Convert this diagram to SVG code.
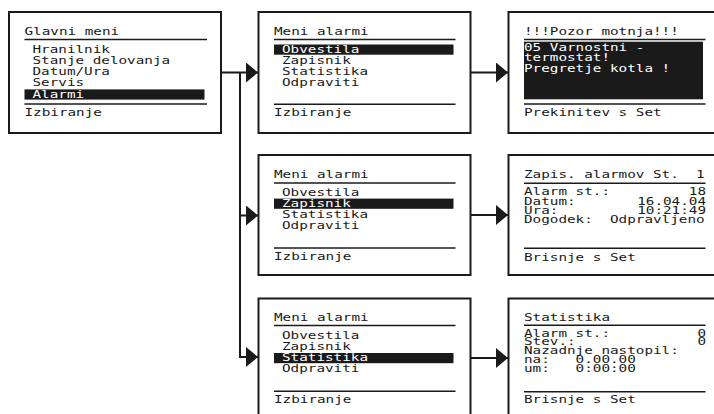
<svg xmlns="http://www.w3.org/2000/svg" width="714" height="414" viewBox="0 0 714 414">
<style>
.t{font-family:"DejaVu Sans Mono","Liberation Mono",monospace;font-size:11px;fill:#1a1a1a}
.w{fill:#fff}
.pre{white-space:pre}
.box{fill:#fff;stroke:#1a1a1a;stroke-width:2}
.rule{stroke:#1a1a1a;stroke-width:1.5}
.bar{fill:#1a1a1a}
.conn{fill:none;stroke:#1a1a1a;stroke-width:2;marker-end:url(#ah)}
</style>
<defs>
<marker id="ah" markerUnits="userSpaceOnUse" markerWidth="12" markerHeight="20" viewBox="0 0 12 20" refX="12" refY="10" orient="auto">
<path d="M0 0 L12 10 L0 20 Z" fill="#1a1a1a"/>
</marker>
</defs>
<rect width="714" height="414" fill="#fff"/>

<g id="glavni-meni">
<rect class="box" x="9" y="12" width="212" height="121"/>
<text class="t" x="24.5" y="35" textLength="94.6" lengthAdjust="spacingAndGlyphs">Glavni meni</text>
<line class="rule" x1="24.5" y1="39.5" x2="207" y2="39.5"/>
<text class="t" x="32.5" y="52.5" textLength="77.4" lengthAdjust="spacingAndGlyphs">Hranilnik</text>
<text class="t" x="32.5" y="63.8" textLength="137.6" lengthAdjust="spacingAndGlyphs">Stanje delovanja</text>
<text class="t" x="32.5" y="75.1" textLength="77.4" lengthAdjust="spacingAndGlyphs">Datum/Ura</text>
<text class="t" x="32.5" y="86.4" textLength="51.6" lengthAdjust="spacingAndGlyphs">Servis</text>
<rect class="bar" x="24.5" y="89.4" width="180" height="10.2"/>
<text class="t w" x="32.5" y="97.7" textLength="51.6" lengthAdjust="spacingAndGlyphs">Alarmi</text>
<line class="rule" x1="24.5" y1="104" x2="207" y2="104"/>
<text class="t" x="24.5" y="115.5" textLength="77.4" lengthAdjust="spacingAndGlyphs">Izbiranje</text>
</g>

<g id="meni-alarmi-1">
<rect class="box" x="258.5" y="12" width="212" height="121"/>
<text class="t" x="274" y="35.3" textLength="94.6" lengthAdjust="spacingAndGlyphs">Meni alarmi</text>
<line class="rule" x1="274" y1="39.5" x2="455.5" y2="39.5"/>
<rect class="bar" x="274" y="44.5" width="179.5" height="10.2"/>
<text class="t w" x="282" y="52.8" textLength="77.4" lengthAdjust="spacingAndGlyphs">Obvestila</text>
<text class="t" x="282" y="63.6" textLength="68.8" lengthAdjust="spacingAndGlyphs">Zapisnik</text>
<text class="t" x="282" y="74.6" textLength="86" lengthAdjust="spacingAndGlyphs">Statistika</text>
<text class="t" x="282" y="85.6" textLength="77.4" lengthAdjust="spacingAndGlyphs">Odpraviti</text>
<line class="rule" x1="274" y1="104.3" x2="455.5" y2="104.3"/>
<text class="t" x="274" y="115.8" textLength="77.4" lengthAdjust="spacingAndGlyphs">Izbiranje</text>
</g>

<g id="pozor-motnja">
<rect class="box" x="508.5" y="12" width="220" height="121"/>
<text class="t" x="524" y="35" textLength="154.8" lengthAdjust="spacingAndGlyphs">!!!Pozor motnja!!!</text>
<line class="rule" x1="524" y1="39.5" x2="705.5" y2="39.5"/>
<rect class="bar" x="524" y="41.7" width="179" height="57.6"/>
<text class="t w" x="524" y="50.5" textLength="120.4" lengthAdjust="spacingAndGlyphs">05 Varnostni -</text>
<text class="t w" x="524" y="61.2" textLength="86" lengthAdjust="spacingAndGlyphs">termostat!</text>
<text class="t w" x="524" y="72" textLength="146.2" lengthAdjust="spacingAndGlyphs">Pregretje kotla !</text>
<line class="rule" x1="524" y1="104" x2="705.5" y2="104"/>
<text class="t" x="524" y="115.5" textLength="137.6" lengthAdjust="spacingAndGlyphs">Prekinitev s Set</text>
</g>

<g id="meni-alarmi-2">
<rect class="box" x="258.5" y="155" width="212" height="120"/>
<text class="t" x="274" y="178.3" textLength="94.6" lengthAdjust="spacingAndGlyphs">Meni alarmi</text>
<line class="rule" x1="274" y1="183" x2="455.5" y2="183"/>
<text class="t" x="282" y="195.8" textLength="77.4" lengthAdjust="spacingAndGlyphs">Obvestila</text>
<rect class="bar" x="274" y="198.6" width="179.5" height="10.2"/>
<text class="t w" x="282" y="206.6" textLength="68.8" lengthAdjust="spacingAndGlyphs">Zapisnik</text>
<text class="t" x="282" y="217.6" textLength="86" lengthAdjust="spacingAndGlyphs">Statistika</text>
<text class="t" x="282" y="228.6" textLength="77.4" lengthAdjust="spacingAndGlyphs">Odpraviti</text>
<line class="rule" x1="274" y1="248" x2="455.5" y2="248"/>
<text class="t" x="274" y="260" textLength="77.4" lengthAdjust="spacingAndGlyphs">Izbiranje</text>
</g>

<g id="zapis-alarmov">
<rect class="box" x="508.5" y="155" width="220" height="120"/>
<text class="t pre" xml:space="preserve" x="524" y="178.3" textLength="180.6" lengthAdjust="spacingAndGlyphs">Zapis. alarmov St.  1</text>
<line class="rule" x1="524" y1="183.3" x2="705.5" y2="183.3"/>
<text class="t" x="524" y="195" textLength="86" lengthAdjust="spacingAndGlyphs">Alarm st.:</text>
<text class="t" x="706" y="195" text-anchor="end" textLength="17.2" lengthAdjust="spacingAndGlyphs">18</text>
<text class="t" x="524" y="204.5" textLength="51.6" lengthAdjust="spacingAndGlyphs">Datum:</text>
<text class="t" x="706" y="204.5" text-anchor="end" textLength="68.8" lengthAdjust="spacingAndGlyphs">16.04.04</text>
<text class="t" x="524" y="214" textLength="34.4" lengthAdjust="spacingAndGlyphs">Ura:</text>
<text class="t" x="706" y="214" text-anchor="end" textLength="68.8" lengthAdjust="spacingAndGlyphs">10:21:49</text>
<text class="t pre" xml:space="preserve" x="524" y="223.3" textLength="180.6" lengthAdjust="spacingAndGlyphs">Dogodek:  Odpravljeno</text>
<line class="rule" x1="524" y1="248.3" x2="705.5" y2="248.3"/>
<text class="t" x="524" y="260.5" textLength="111.8" lengthAdjust="spacingAndGlyphs">Brisnje s Set</text>
</g>

<g id="meni-alarmi-3">
<rect class="box" x="258.5" y="298.5" width="212" height="121"/>
<text class="t" x="274" y="320.5" textLength="94.6" lengthAdjust="spacingAndGlyphs">Meni alarmi</text>
<line class="rule" x1="274" y1="325.5" x2="455.5" y2="325.5"/>
<text class="t" x="282" y="338.5" textLength="77.4" lengthAdjust="spacingAndGlyphs">Obvestila</text>
<text class="t" x="282" y="349.5" textLength="68.8" lengthAdjust="spacingAndGlyphs">Zapisnik</text>
<rect class="bar" x="274" y="353" width="179.5" height="10.2"/>
<text class="t w" x="282" y="361.3" textLength="86" lengthAdjust="spacingAndGlyphs">Statistika</text>
<text class="t" x="282" y="372.3" textLength="77.4" lengthAdjust="spacingAndGlyphs">Odpraviti</text>
<line class="rule" x1="274" y1="391.3" x2="455.5" y2="391.3"/>
<text class="t" x="274" y="402.5" textLength="77.4" lengthAdjust="spacingAndGlyphs">Izbiranje</text>
</g>

<g id="statistika">
<rect class="box" x="508.5" y="298.5" width="220" height="121"/>
<text class="t" x="524" y="320.7" textLength="86" lengthAdjust="spacingAndGlyphs">Statistika</text>
<line class="rule" x1="524" y1="325.3" x2="705.5" y2="325.3"/>
<text class="t" x="524" y="336.5" textLength="86" lengthAdjust="spacingAndGlyphs">Alarm st.:</text>
<text class="t" x="706" y="336.5" text-anchor="end" textLength="8.6" lengthAdjust="spacingAndGlyphs">0</text>
<text class="t" x="524" y="345.2" textLength="51.6" lengthAdjust="spacingAndGlyphs">Stev.:</text>
<text class="t" x="706" y="345.2" text-anchor="end" textLength="8.6" lengthAdjust="spacingAndGlyphs">0</text>
<text class="t" x="524" y="354" textLength="154.8" lengthAdjust="spacingAndGlyphs">Nazadnje nastopil:</text>
<text class="t pre" xml:space="preserve" x="524" y="363" textLength="111.8" lengthAdjust="spacingAndGlyphs">na:   0.00.00</text>
<text class="t pre" xml:space="preserve" x="524" y="371.8" textLength="111.8" lengthAdjust="spacingAndGlyphs">um:   0:00:00</text>
<line class="rule" x1="524" y1="391.7" x2="705.5" y2="391.7"/>
<text class="t" x="524" y="402.5" textLength="111.8" lengthAdjust="spacingAndGlyphs">Brisnje s Set</text>
</g>

<g id="connectors">
<path class="conn" d="M221 72.5 H258"/>
<path class="conn" d="M240 72.5 V357 H258"/>
<path class="conn" d="M240 215.5 H258"/>
<path class="conn" d="M470.5 72.5 H508"/>
<path class="conn" d="M470.5 215 H508"/>
<path class="conn" d="M470.5 358 H508"/>
</g>
</svg>
